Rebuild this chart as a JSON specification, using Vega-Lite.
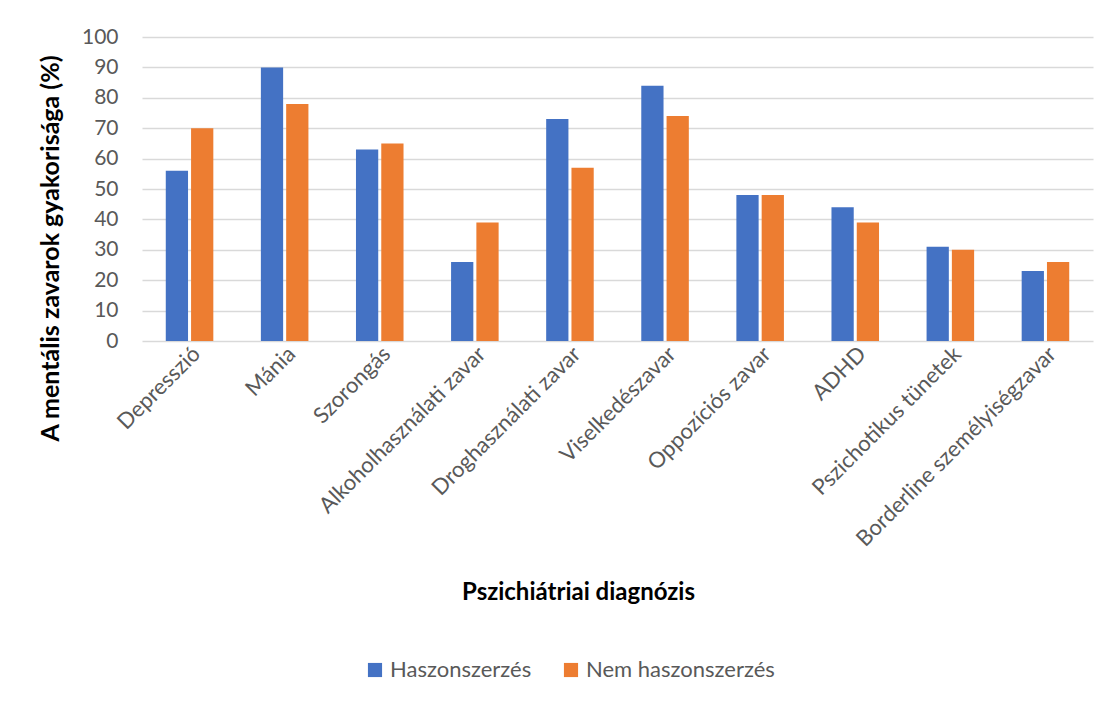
{
  "$schema": "https://vega.github.io/schema/vega-lite/v6.json",
  "width": 951,
  "height": 304,
  "autosize": {"type": "none"},
  "padding": {"left": 142, "top": 37, "right": 17, "bottom": 363},
  "background": "white",
  "data": {
    "values": [
      {"d": "Depresszió", "g": "Haszonszerzés", "v": 56},
      {"d": "Depresszió", "g": "Nem haszonszerzés", "v": 70},
      {"d": "Mánia", "g": "Haszonszerzés", "v": 90},
      {"d": "Mánia", "g": "Nem haszonszerzés", "v": 78},
      {"d": "Szorongás", "g": "Haszonszerzés", "v": 63},
      {"d": "Szorongás", "g": "Nem haszonszerzés", "v": 65},
      {"d": "Alkoholhasználati zavar", "g": "Haszonszerzés", "v": 26},
      {"d": "Alkoholhasználati zavar", "g": "Nem haszonszerzés", "v": 39},
      {"d": "Droghasználati zavar", "g": "Haszonszerzés", "v": 73},
      {"d": "Droghasználati zavar", "g": "Nem haszonszerzés", "v": 57},
      {"d": "Viselkedészavar", "g": "Haszonszerzés", "v": 84},
      {"d": "Viselkedészavar", "g": "Nem haszonszerzés", "v": 74},
      {"d": "Oppozíciós zavar", "g": "Haszonszerzés", "v": 48},
      {"d": "Oppozíciós zavar", "g": "Nem haszonszerzés", "v": 48},
      {"d": "ADHD", "g": "Haszonszerzés", "v": 44},
      {"d": "ADHD", "g": "Nem haszonszerzés", "v": 39},
      {"d": "Pszichotikus tünetek", "g": "Haszonszerzés", "v": 31},
      {"d": "Pszichotikus tünetek", "g": "Nem haszonszerzés", "v": 30},
      {"d": "Borderline személyiségzavar", "g": "Haszonszerzés", "v": 23},
      {"d": "Borderline személyiségzavar", "g": "Nem haszonszerzés", "v": 26}
    ]
  },
  "mark": {"type": "bar"},
  "encoding": {
    "x": {
      "field": "d",
      "type": "nominal",
      "sort": null,
      "scale": {"paddingInner": 0.5, "paddingOuter": 0.25},
      "axis": {
        "title": "Pszichiátriai diagnózis",
        "titleFont": "Lato",
        "titleFontSize": 24,
        "titleFontWeight": "bold",
        "titleColor": "black",
        "titleX": 436,
        "titleY": 251,
        "titleBaseline": "middle",
        "labelAngle": -45,
        "labelFont": "Lato",
        "labelFontSize": 22,
        "labelColor": "#595959",
        "labelPadding": 2,
        "labelLimit": 0,
        "ticks": false,
        "domain": false
      }
    },
    "xOffset": {"field": "g", "type": "nominal", "scale": {"paddingInner": 0.12}},
    "y": {
      "field": "v",
      "type": "quantitative",
      "scale": {"domain": [0, 100]},
      "axis": {
        "title": "A mentális zavarok gyakorisága (%)",
        "titleFont": "Lato",
        "titleFontSize": 25,
        "titleFontWeight": "bold",
        "titleColor": "black",
        "titleAngle": -90,
        "titleAlign": "center",
        "titleBaseline": "middle",
        "titleX": -92,
        "titleY": 211,
        "values": [0, 10, 20, 30, 40, 50, 60, 70, 80, 90, 100],
        "labelFont": "Lato",
        "labelFontSize": 21,
        "labelColor": "#595959",
        "labelPadding": 24,
        "ticks": false,
        "domain": false,
        "gridColor": "#d9d9d9",
        "gridWidth": 1.5
      }
    },
    "color": {
      "field": "g",
      "type": "nominal",
      "scale": {"domain": ["Haszonszerzés", "Nem haszonszerzés"], "range": ["#4472C4", "#ED7D31"]},
      "legend": {
        "title": null,
        "orient": "none",
        "direction": "horizontal",
        "legendX": 222,
        "legendY": 622,
        "symbolType": "square",
        "symbolSize": 200,
        "symbolStrokeWidth": 0,
        "labelFont": "Lato",
        "labelFontSize": 22,
        "labelColor": "#595959",
        "columnPadding": 28,
        "labelOffset": 4,
        "labelLimit": 0
      }
    }
  },
  "config": {
    "view": {"stroke": null}
  }
}
